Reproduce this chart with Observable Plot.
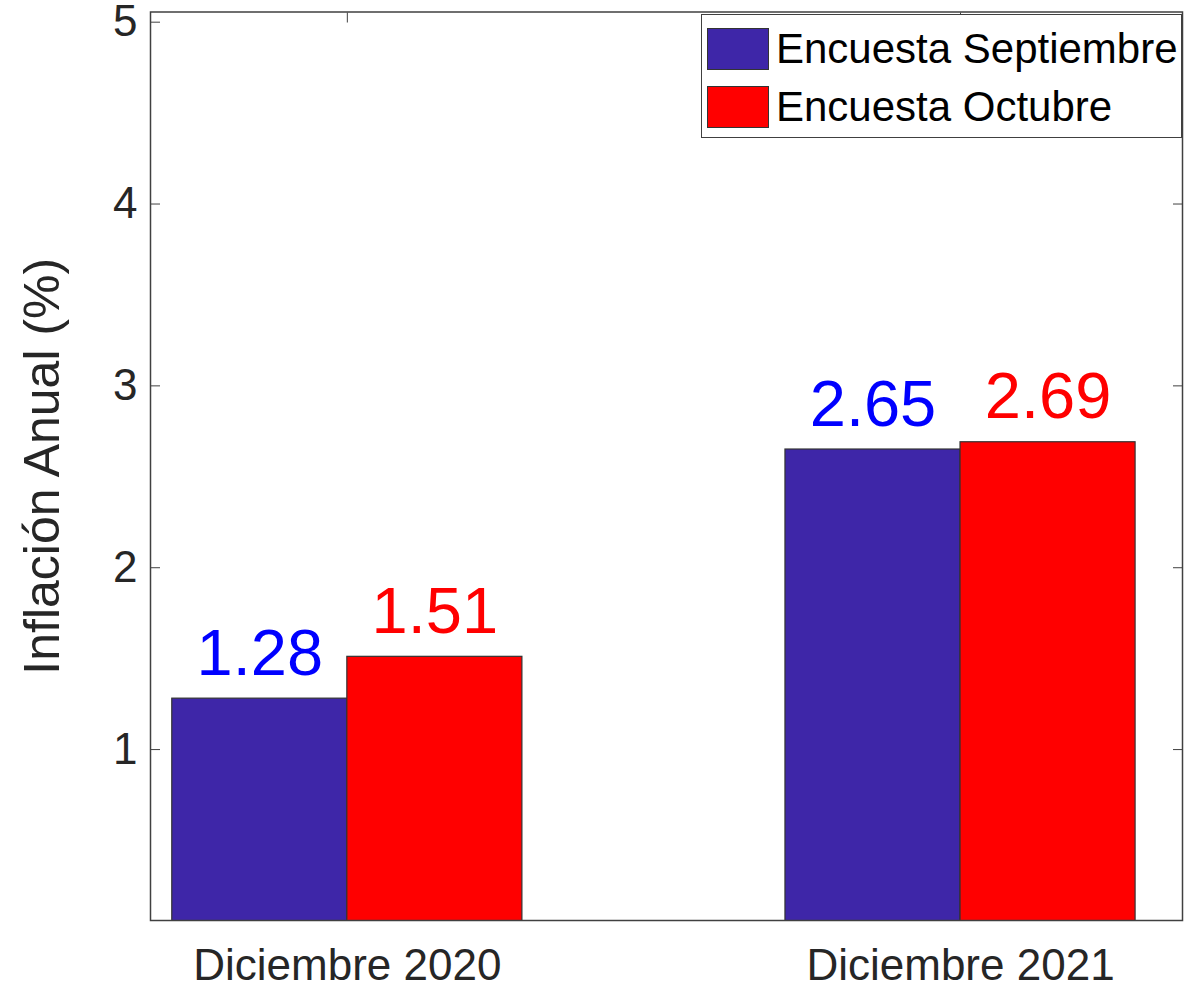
<!DOCTYPE html>
<html>
<head>
<meta charset="utf-8">
<script src="https://cdn.jsdelivr.net/npm/d3@7"></script>
<script src="https://cdn.jsdelivr.net/npm/@observablehq/plot@0.6"></script>
<style>
  html, body { margin: 0; padding: 0; background: #fff; }
  #wrap { position: relative; width: 1191px; height: 990px; font-family: "Liberation Sans", Arial, sans-serif; }
  #legend { position: absolute; left: 701px; top: 14px; width: 479px; height: 122px; border: 1.5px solid #404040; background: #fff; }
  .item { position: absolute; left: 5px; display: flex; align-items: center; font-size: 42px; color: #000; white-space: nowrap; }
  .sw { width: 62px; height: 42px; border: 1px solid #333; box-sizing: border-box; margin-right: 7px; }
</style>
</head>
<body>
<div id="wrap"></div>
<script>
const categories = ["Diciembre 2020", "Diciembre 2021"];
const seriesNames = ["Encuesta Septiembre", "Encuesta Octubre"];
const septiembre = [1.28, 2.65];
const octubre = [1.51, 2.69];
const yTicks = [1, 2, 3, 4, 5];
const barColors = ["#3e26a8", "#ff0000"];
const labelColors = ["#0000ff", "#ff0000"];

const barW = 0.2855;
const bars = [];
categories.forEach((c, i) => {
  [septiembre, octubre].forEach((vals, s) => {
    const pos = i + 1;
    bars.push({
      category: c,
      series: seriesNames[s],
      s,
      value: vals[i],
      x1: s === 0 ? pos - barW : pos,
      x2: s === 0 ? pos : pos + barW
    });
  });
});

const font = "'Liberation Sans', Arial, sans-serif";
const chart = Plot.plot({
  width: 1191,
  height: 990,
  marginLeft: 150,
  marginRight: 9,
  marginTop: 11.5,
  marginBottom: 70,
  style: { fontFamily: font, background: "white", color: "#262626", overflow: "visible" },
  x: { type: "linear", domain: [0.679, 2.362] },
  y: { domain: [0.06, 5.056] },
  marks: [
    Plot.axisY(yTicks, { anchor: "left", tickSize: 10, insetLeft: 10, tickPadding: 13, fontSize: 44, stroke: "#404040", fill: "#262626",
      tickFormat: d => String(d), label: null }),
    Plot.axisY(yTicks, { anchor: "left", tickSize: 0, tickFormat: () => "", fontSize: 50, fill: "#262626",
      label: "Inflación Anual (%)", labelAnchor: "center", labelOffset: 127, labelArrow: false }),
    Plot.axisY(yTicks, { anchor: "right", tickSize: 10, insetRight: 10, tickFormat: () => "", label: null, stroke: "#404040" }),
    Plot.axisX([1, 2], { anchor: "top", tickSize: 10, insetTop: 10, tickFormat: () => "", label: null, stroke: "#404040" }),
    Plot.axisX([1, 2], { anchor: "bottom", tickSize: 10, insetBottom: 10, tickPadding: 28, fontSize: 44, fill: "#262626", stroke: "#404040",
      tickFormat: d => categories[d - 1], label: null }),
    Plot.rectY(bars, { x1: "x1", x2: "x2", y1: 0, y2: "value", fill: d => barColors[d.s], stroke: "#333333", strokeWidth: 1.2, clip: true }),
    Plot.frame({ stroke: "#404040", strokeWidth: 1.5 }),
    Plot.text(bars, { x: d => (d.x1 + d.x2) / 2, y: "value", text: d => d.value.toFixed(2), dy: -24, lineAnchor: "bottom",
      fontSize: 65, fill: d => labelColors[d.s] })
  ]
});

const wrap = document.getElementById("wrap");
wrap.appendChild(chart);
const legend = document.createElement("div");
legend.id = "legend";
seriesNames.forEach((n, i) => {
  const it = document.createElement("div");
  it.className = "item";
  it.style.top = (i === 0 ? 10 : 68) + "px";
  const sw = document.createElement("div");
  sw.className = "sw";
  sw.style.background = barColors[i];
  const t = document.createElement("span");
  t.textContent = n;
  it.appendChild(sw);
  it.appendChild(t);
  legend.appendChild(it);
});
wrap.appendChild(legend);
</script>
</body>
</html>
